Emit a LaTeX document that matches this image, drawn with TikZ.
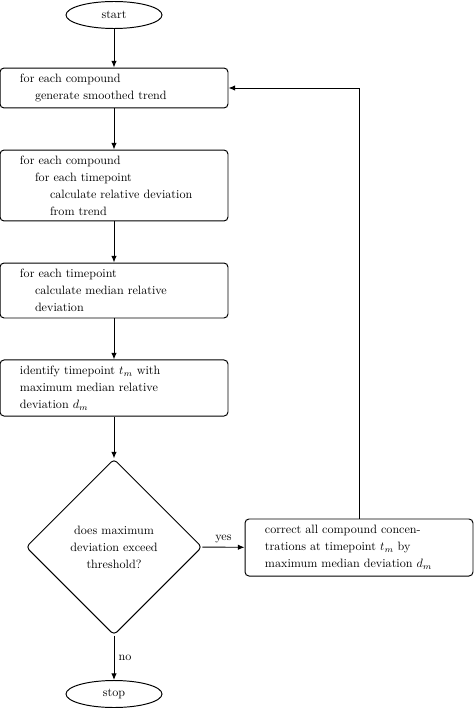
\documentclass[tikz,border=0pt]{standalone}
\usetikzlibrary{shapes.geometric,arrows.meta}
\begin{document}
\begin{tikzpicture}[x=0.826pt,y=-0.826pt,
  every node/.style={font=\fontsize{10}{14}\selectfont},
  base/.style={draw, line width=0.8pt},
  proc/.style={base, rounded corners=3.3pt, text width=168.3pt, inner xsep=10pt, inner ysep=0pt, align=left},
  term/.style={base, ellipse, minimum width=79.3pt, minimum height=22.3pt, inner sep=0pt},
  dec/.style={base, diamond, rounded corners=3.3pt, minimum width=145.4pt, minimum height=145.4pt, align=center, inner sep=0pt},
  arr/.style={line width=0.8pt, -{Latex[length=5.5pt,width=4.5pt]}}]
\useasboundingbox (0,0) rectangle (473,710);
\node[term] (start) at (114,15) {start};
\node[proc, minimum height=33pt] (b1) at (114,88) {\hspace*{6.5pt}for each compound\\\hspace*{18.9pt}generate smoothed trend};
\node[proc, minimum height=58.6pt] (b2) at (114,185.5) {\hspace*{6.5pt}for each compound\\\hspace*{18.9pt}for each timepoint\\\hspace*{31.3pt}calculate relative deviation\\\hspace*{31.3pt}from trend};
\node[proc, minimum height=45.4pt] (b3) at (114,290.5) {\hspace*{6.5pt}for each timepoint\\\hspace*{18.9pt}calculate median relative\\\hspace*{18.9pt}deviation};
\node[proc, minimum height=46.3pt] (b4) at (114,388) {\hspace*{6.5pt}identify timepoint $t_m$ with\\\hspace*{6.5pt}maximum median relative\\\hspace*{6.5pt}deviation $d_m$};
\node[dec] (d) at (114,547) {does maximum\\deviation exceed\\threshold?};
\node[proc, minimum height=47.1pt] (c) at (359,547.5) {\hspace*{6.5pt}correct all compound concen-\\\hspace*{6.5pt}trations at timepoint $t_m$ by\\\hspace*{6.5pt}maximum median deviation $d_m$};
\node[term] (stop) at (114,694) {stop};
\coordinate (corner) at (c.north |- b1.east);
\draw[arr] (start) -- (b1);
\draw[arr] (b1) -- (b2);
\draw[arr] (b2) -- (b3);
\draw[arr] (b3) -- (b4);
\draw[arr] (b4) -- (d);
\draw[arr] (d) -- node[above] {yes} (c);
\draw[arr] (d) -- node[right] {no} (stop);
\draw[arr] (c.north) -- (corner) -- (b1.east);
\end{tikzpicture}
\end{document}
